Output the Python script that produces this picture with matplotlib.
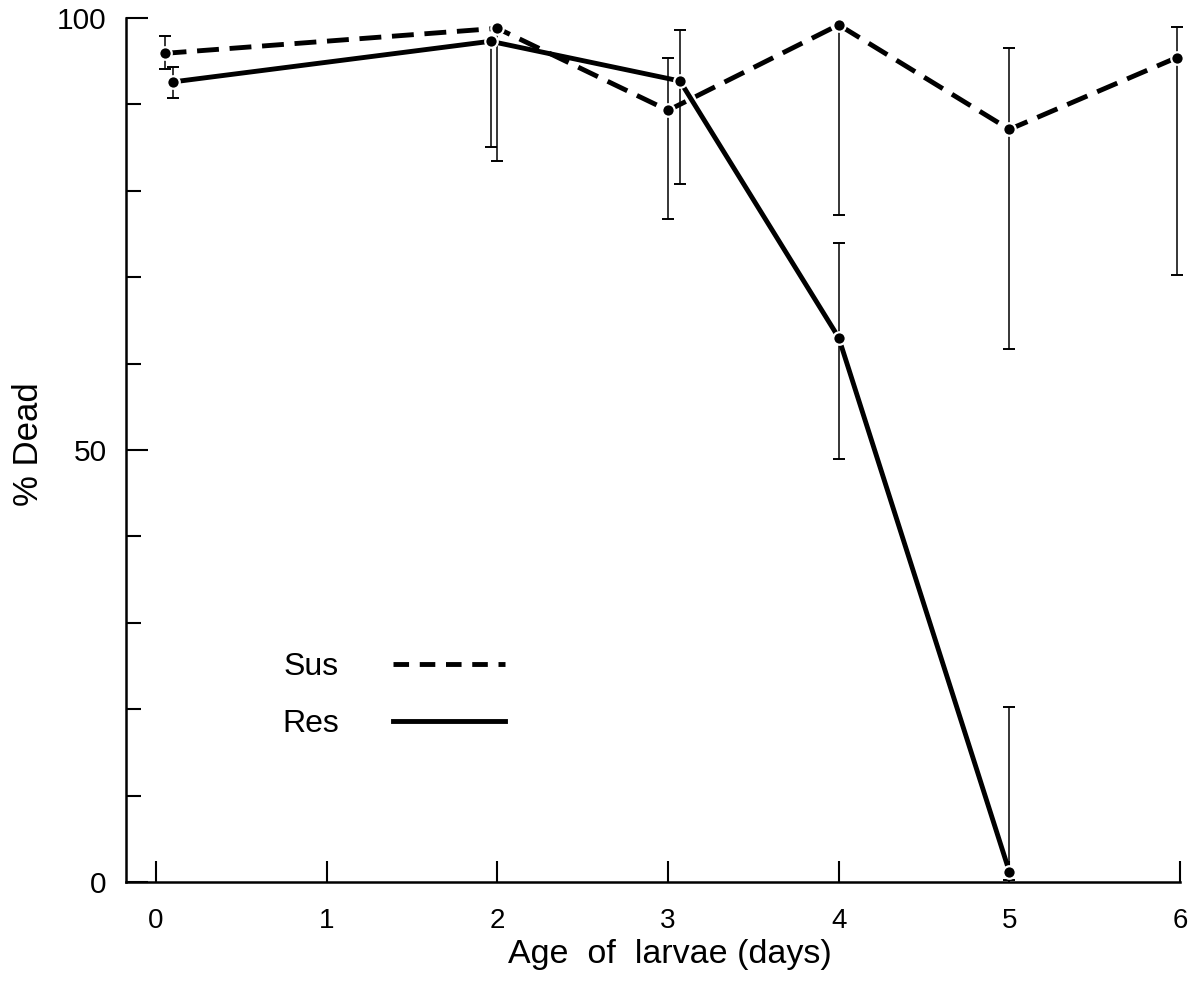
import matplotlib
matplotlib.use("Agg")
import matplotlib.pyplot as plt
import numpy as np
from matplotlib.lines import Line2D
from matplotlib.ticker import MultipleLocator

plt.rcParams['font.family'] = ['Liberation Sans', 'DejaVu Sans']

# susceptible strain (dashed); upper bound equal to the value = no upper bar
sus_days = [0.05, 2.0, 3.0, 4.0, 5.0, 5.98]
sus_dead = [95.9, 98.8, 89.3, 99.2, 87.1, 95.4]
sus_upper = [97.9, 98.8, 95.4, 99.2, 96.5, 98.9]
sus_lower = [94.1, 83.4, 76.7, 77.2, 61.7, 70.3]

# resistant strain (solid)
res_days = [0.10, 1.96, 3.07, 4.0, 5.0]
res_dead = [92.6, 97.3, 92.7, 63.0, 1.2]
res_upper = [94.3, 97.3, 98.6, 74.0, 20.3]
res_lower = [90.7, 85.1, 80.8, 48.9, 0.2]

day_ticks = [0, 1, 2, 3, 4, 5, 6]

fig = plt.figure(figsize=(11.97, 9.86), dpi=100)
ax = fig.add_axes([0.1053, 0.1055, 0.8805, 0.8763])


def err(vals, up, lo):
    vals = np.array(vals)
    return [vals - np.array(lo), np.array(up) - vals]


for days, dead, up, lo, style in [
    (sus_days, sus_dead, sus_upper, sus_lower, (0, (4.5, 2.2))),
    (res_days, res_dead, res_upper, res_lower, '-'),
]:
    ax.errorbar(days, dead, yerr=err(dead, up, lo), fmt='none', ecolor='black',
                elinewidth=1.1, capsize=4.5, capthick=1.4, zorder=2, clip_on=False)
    ax.plot(days, dead, color='black', lw=3.5, linestyle=style, zorder=3,
            dash_capstyle='butt', clip_on=False)
    ax.plot(days, dead, 'o', color='black', ms=9, mec='white', mew=1.6,
            zorder=4, clip_on=False)

ax.set_xlim(-0.176, 6.0)
ax.set_ylim(0, 100)

for s in ['top', 'right']:
    ax.spines[s].set_visible(False)
for s in ['left', 'bottom']:
    ax.spines[s].set_linewidth(1.8)

ax.set_xticks(day_ticks)
ax.set_yticks([0, 50, 100])
ax.yaxis.set_minor_locator(MultipleLocator(10))
ax.tick_params(axis='x', direction='in', length=15, width=1.5, pad=19, labelsize=20)
ax.tick_params(axis='y', which='major', direction='in', length=16, width=1.5, pad=14, labelsize=21.5)
ax.tick_params(axis='y', which='minor', direction='in', length=11, width=1.5)

ax.set_xlabel('Age  of  larvae (days)', fontsize=24.5)
ax.xaxis.set_label_coords(0.516, -0.066)
ax.set_ylabel('% Dead', fontsize=25)
ax.yaxis.set_label_coords(-0.077, 0.507)

handles = [Line2D([], [], color='black', lw=3.5, linestyle=(0, (3.2, 2.2))),
           Line2D([], [], color='black', lw=3.5)]
ax.legend(handles, ['Sus', 'Res'], loc='upper left', bbox_to_anchor=(0.148, 0.266),
          frameon=False, markerfirst=False, fontsize=23, handlelength=3.5,
          handletextpad=1.7, labelspacing=0.85, borderpad=0, borderaxespad=0)

fig.savefig('out.png', dpi=100, facecolor='white')
